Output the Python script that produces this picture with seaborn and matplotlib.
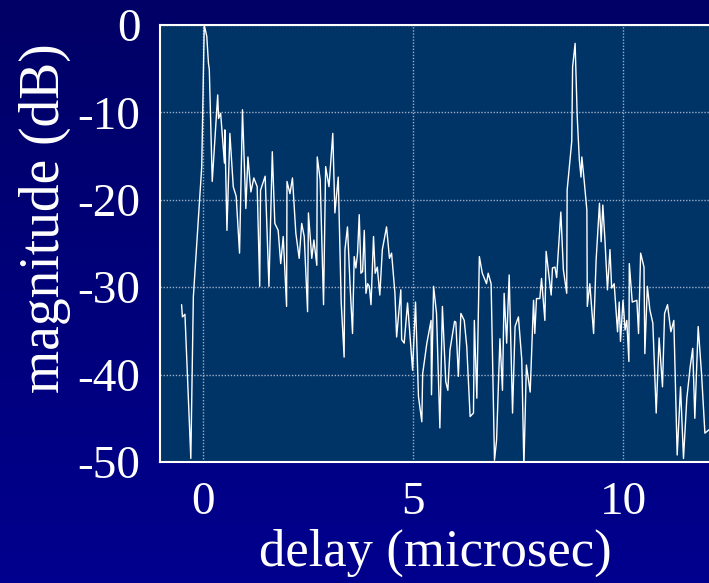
import numpy as np
import pandas as pd
import matplotlib
matplotlib.use("Agg")
import matplotlib.pyplot as plt
import seaborn as sns
from matplotlib.colors import LinearSegmentedColormap

# ---- data (delay in microseconds, magnitude in dB) ----
delay_us = [
    -0.51, -0.49, -0.43, -0.29, -0.23, -0.03, 0.03, 0.09, 0.13, 0.15, 0.22, 0.35, 0.37, 0.42,
    0.51, 0.52, 0.57, 0.64, 0.72, 0.79, 0.87, 0.94, 1.02, 1.07, 1.14, 1.21, 1.29, 1.35, 1.37,
    1.48, 1.57, 1.65, 1.71, 1.79, 1.85, 1.91, 1.99, 2.00, 2.07, 2.13, 2.21, 2.29, 2.35, 2.41,
    2.49, 2.51, 2.59, 2.64, 2.71, 2.72, 2.79, 2.87, 2.92, 3.00, 3.09, 3.14, 3.22, 3.29, 3.36,
    3.38, 3.44, 3.50, 3.56, 3.60, 3.64, 3.68, 3.72, 3.76, 3.80, 3.84, 3.88, 3.92, 3.96, 4.00,
    4.06, 4.10, 4.15, 4.21, 4.27, 4.37, 4.44, 4.49, 4.57, 4.61, 4.71, 4.73, 4.79, 4.87, 4.93,
    4.99, 5.06, 5.13, 5.21, 5.23, 5.33, 5.43, 5.44, 5.49, 5.56, 5.64, 5.70, 5.78, 5.83, 5.88,
    5.99, 6.02, 6.08, 6.14, 6.22, 6.28, 6.36, 6.44, 6.46, 6.52, 6.58, 6.65, 6.75, 6.79, 6.86,
    6.94, 6.99, 7.07, 7.13, 7.17, 7.23, 7.29, 7.37, 7.43, 7.51, 7.59, 7.64, 7.70, 7.79, 7.87,
    7.90, 7.94, 8.02, 8.06, 8.14, 8.17, 8.24, 8.29, 8.32, 8.38, 8.42, 8.48, 8.52, 8.58, 8.66,
    8.67, 8.78, 8.80, 8.86, 8.91, 8.96, 9.00, 9.02, 9.06, 9.14, 9.15, 9.21, 9.30, 9.36, 9.44,
    9.48, 9.52, 9.57, 9.63, 9.69, 9.73, 9.79, 9.87, 9.91, 9.94, 10.00, 10.05, 10.09, 10.14,
    10.15, 10.22, 10.33, 10.37, 10.42, 10.50, 10.52, 10.58, 10.64, 10.71, 10.79, 10.86, 10.94,
    10.99, 11.06, 11.14, 11.21, 11.29, 11.37, 11.44, 11.52, 11.60, 11.66, 11.71, 11.79, 11.87,
    11.95, 12.05,
]
magnitude_db = [
    -32.0, -33.4, -33.1, -49.6, -31.1, -16.2, 0.0, -1.3, -4.4, -5.1, -17.9, -8.0, -10.7, -10.1,
    -15.8, -12.0, -23.5, -12.4, -18.5, -19.6, -26.1, -9.7, -21.0, -15.1, -19.1, -17.5, -18.5, -29.9, -18.9,
    -17.3, -29.9, -14.5, -22.7, -23.5, -27.3, -24.2, -32.2, -17.9, -19.3, -17.5, -23.8, -26.7, -22.7, -24.2,
    -32.8, -21.5, -26.7, -24.6, -27.5, -15.1, -17.7, -32.0, -16.2, -18.5, -12.4, -21.5, -17.4, -31.7, -38.0,
    -25.7, -23.1, -29.6, -35.3, -26.5, -27.8, -26.1, -21.7, -28.4, -28.2, -23.5, -30.7, -29.6, -29.9, -32.0,
    -24.2, -28.4, -27.7, -30.9, -25.7, -23.1, -26.7, -26.1, -30.7, -35.7, -30.3, -36.0, -36.4, -31.8, -35.7,
    -39.5, -31.7, -42.5, -45.4, -39.9, -36.4, -33.8, -42.3, -29.9, -33.0, -46.1, -32.2, -40.8, -41.8, -37.2,
    -33.9, -34.0, -40.2, -33.0, -33.8, -36.8, -44.8, -44.4, -33.8, -42.7, -26.5, -28.4, -29.6, -28.4, -29.6,
    -49.8, -47.5, -35.9, -41.8, -30.7, -36.4, -28.6, -44.4, -34.5, -33.4, -38.3, -50.5, -38.9, -42.0, -31.5,
    -35.3, -31.3, -31.3, -29.0, -33.8, -25.9, -28.8, -30.9, -27.8, -27.7, -28.9, -24.4, -21.4, -28.0, -30.7,
    -18.9, -13.3, -4.8, -2.1, -10.5, -15.4, -17.4, -15.1, -17.0, -21.2, -32.2, -29.6, -35.3, -26.9, -20.4,
    -24.8, -20.6, -24.6, -30.3, -25.7, -30.1, -29.6, -35.1, -31.7, -36.2, -31.5, -34.9, -33.8, -38.5,
    -27.3, -31.7, -31.5, -35.3, -26.1, -27.7, -37.6, -29.9, -32.6, -34.1, -44.4, -35.8, -41.4,
    -33.0, -32.0, -35.1, -33.8, -49.2, -41.4, -49.6, -42.7, -39.1, -37.0, -45.0, -34.5, -39.9,
    -46.7, -46.3,
]
x_ticks = [0, 5, 10]
y_ticks = [0, -10, -20, -30, -40, -50]

df = pd.DataFrame({"delay": delay_us, "magnitude": magnitude_db})

sns.set_style("dark")
plt.rcParams["font.family"] = ["Liberation Serif", "DejaVu Serif"]

W, H = 709, 583
fig = plt.figure(figsize=(W / 100, H / 100), dpi=100)

# gradient background
bg = fig.add_axes([0, 0, 1, 1], zorder=-10)
grad = np.linspace(0, 1, 256).reshape(-1, 1)
cmap = LinearSegmentedColormap.from_list("bg", ["#000066", "#00008e"])
bg.imshow(grad, aspect="auto", cmap=cmap, extent=[0, 1, 0, 1], origin="upper")
bg.set_axis_off()

left_px, top_px, bottom_px, right_px = 160, 25, 462, 730
ax = fig.add_axes([left_px / W, 1 - bottom_px / H, (right_px - left_px) / W, (bottom_px - top_px) / H])
ax.set_facecolor("#003366")

sns.lineplot(data=df, x="delay", y="magnitude", ax=ax, color="white", lw=1.0,
             estimator=None, sort=False)

px_per_unit = 42.0
ax.set_xlim(-(203 - left_px) / px_per_unit, (right_px - 203) / px_per_unit)
ax.set_ylim(-50, 0)
ax.set_xticks(x_ticks)
ax.set_yticks(y_ticks)
ax.set_xticklabels([str(t) for t in x_ticks])
ax.set_yticklabels([str(t) for t in y_ticks])

ax.grid(True, color="#b8c4d8", linestyle=(0, (1, 1.2)), linewidth=1.0, alpha=0.85)
ax.set_axisbelow(True)
for side in ["left", "bottom", "top"]:
    ax.spines[side].set_visible(True)
    ax.spines[side].set_color("white")
    ax.spines[side].set_linewidth(1.5)
ax.spines["right"].set_visible(False)

ax.tick_params(axis="both", length=0, colors="white", labelsize=34)
ax.tick_params(axis="y", pad=14)
ax.tick_params(axis="x", pad=14)

ax.set_xlabel("delay (microsec)", color="white", fontsize=38, va="center")
ax.set_ylabel("magnitude (dB)", color="white", fontsize=40, va="center")
ax.xaxis.set_label_coords((435 - left_px) / (right_px - left_px), -(553 - bottom_px) / (bottom_px - top_px))
ax.yaxis.set_label_coords(-(160 - 45) / (right_px - left_px), (bottom_px - 218) / (bottom_px - top_px))

fig.savefig("out.png", dpi=100)
